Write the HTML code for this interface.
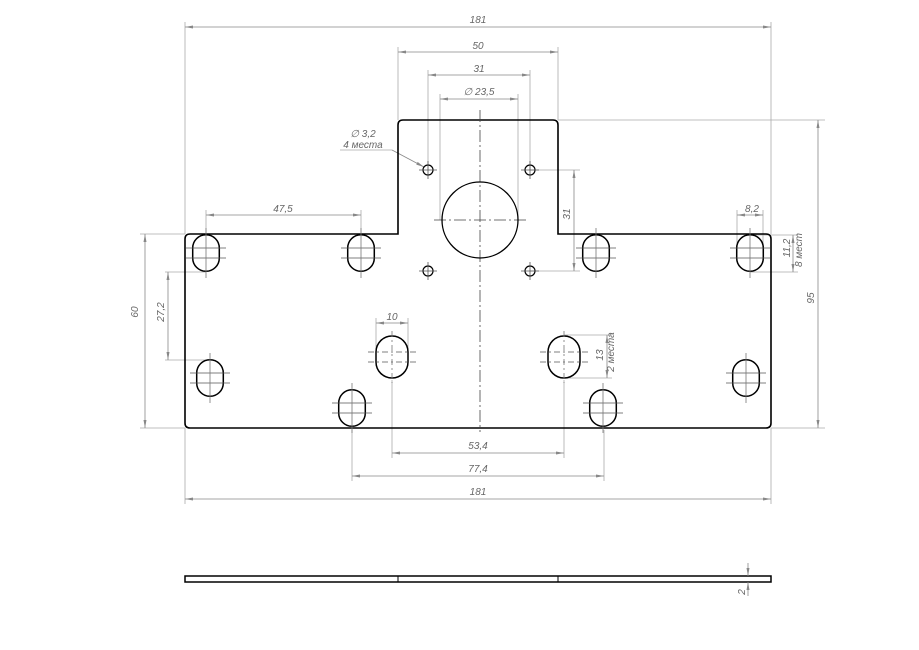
<!DOCTYPE html>
<html><head><meta charset="utf-8"><style>
html,body{margin:0;padding:0;background:#fff}
svg{display:block}
text{font-family:"Liberation Sans",sans-serif;font-size:10px;font-style:italic;fill:#666}
</style></head><body>
<svg width="919" height="650" viewBox="0 0 919 650" xmlns="http://www.w3.org/2000/svg">
<defs>
<marker id="a" markerWidth="8" markerHeight="4" refX="8" refY="2" orient="auto-start-reverse" markerUnits="userSpaceOnUse"><path d="M0,0.5 L8,2 L0,3.5 z" fill="#888"/></marker>
<g id="s">
<rect x="-13.3" y="-18.3" width="26.6" height="36.6" rx="13.3" fill="none" stroke="#000" stroke-width="1.5"/>
<line x1="-20" y1="-5" x2="20" y2="-5" stroke="#555" stroke-width="0.8"/>
<line x1="-20" y1="5" x2="20" y2="5" stroke="#555" stroke-width="0.8"/>
<line x1="0" y1="-25" x2="0" y2="25" stroke="#777" stroke-width="0.8"/>
</g>
<g id="b">
<rect x="-16" y="-21" width="32" height="42" rx="16" fill="none" stroke="#000" stroke-width="1.5"/>
<line x1="-24" y1="-5" x2="24" y2="-5" stroke="#555" stroke-width="0.8" stroke-dasharray="6 3 2 3"/>
<line x1="-24" y1="5" x2="24" y2="5" stroke="#555" stroke-width="0.8" stroke-dasharray="6 3 2 3"/>
<line x1="0" y1="-26" x2="0" y2="26" stroke="#777" stroke-width="0.8" stroke-dasharray="6 3 2 3"/>
</g>
<g id="h">
<circle r="5" fill="none" stroke="#000" stroke-width="1.2"/>
<line x1="-9" y1="0" x2="9" y2="0" stroke="#555" stroke-width="0.8"/>
<line x1="0" y1="-9" x2="0" y2="9" stroke="#555" stroke-width="0.8"/>
</g>
</defs>
<!-- extension lines -->
<g stroke="#aaa" stroke-width="0.8" fill="none">
<line x1="185" y1="22" x2="185" y2="234"/><line x1="771" y1="22" x2="771" y2="234"/>
<line x1="398" y1="47" x2="398" y2="120"/><line x1="558" y1="47" x2="558" y2="120"/>
<line x1="428" y1="70" x2="428" y2="170"/><line x1="530" y1="70" x2="530" y2="170"/>
<line x1="440" y1="94" x2="440" y2="220"/><line x1="518" y1="94" x2="518" y2="220"/>
<line x1="558" y1="120" x2="825" y2="120"/><line x1="771" y1="428" x2="825" y2="428"/>
<line x1="140" y1="234" x2="185" y2="234"/><line x1="140" y1="428" x2="185" y2="428"/>
<line x1="165" y1="272" x2="206" y2="272"/><line x1="165" y1="360" x2="210" y2="360"/>
<line x1="530" y1="170" x2="580" y2="170"/><line x1="530" y1="271" x2="580" y2="271"/>
<line x1="206" y1="210" x2="206" y2="235"/><line x1="361" y1="210" x2="361" y2="235"/>
<line x1="737" y1="210" x2="737" y2="253"/><line x1="763" y1="210" x2="763" y2="253"/>
<line x1="750" y1="235" x2="798" y2="235"/><line x1="750" y1="272" x2="798" y2="272"/>
<line x1="376" y1="318" x2="376" y2="357"/><line x1="408" y1="318" x2="408" y2="357"/>
<line x1="564" y1="335" x2="612" y2="335"/><line x1="564" y1="378" x2="612" y2="378"/>
<line x1="392" y1="380" x2="392" y2="458"/><line x1="564" y1="380" x2="564" y2="458"/>
<line x1="352" y1="430" x2="352" y2="481"/><line x1="604" y1="430" x2="604" y2="481"/>
<line x1="185" y1="428" x2="185" y2="504"/><line x1="771" y1="428" x2="771" y2="504"/>
<line x1="340" y1="150" x2="392" y2="150"/>
</g>
<!-- dimension lines -->
<g stroke="#888" stroke-width="0.8" marker-start="url(#a)" marker-end="url(#a)">
<line x1="185" y1="27" x2="771" y2="27"/>
<line x1="398" y1="52" x2="558" y2="52"/>
<line x1="428" y1="75" x2="530" y2="75"/>
<line x1="440" y1="99" x2="518" y2="99"/>
<line x1="206" y1="215" x2="361" y2="215"/>
<line x1="737" y1="215" x2="763" y2="215"/>
<line x1="818" y1="120" x2="818" y2="428"/>
<line x1="145" y1="234" x2="145" y2="428"/>
<line x1="168" y1="272" x2="168" y2="360"/>
<line x1="574" y1="170" x2="574" y2="271"/>
<line x1="793" y1="235" x2="793" y2="272"/>
<line x1="607" y1="335" x2="607" y2="378"/>
<line x1="376" y1="323" x2="408" y2="323"/>
<line x1="392" y1="453" x2="564" y2="453"/>
<line x1="352" y1="476" x2="604" y2="476"/>
<line x1="185" y1="499" x2="771" y2="499"/>
</g>
<line x1="392" y1="150" x2="424" y2="167" stroke="#888" stroke-width="0.8" marker-end="url(#a)"/>
<!-- outline -->
<path d="M190,234 L398,234 L398,125 Q398,120 403,120 L553,120 Q558,120 558,125 L558,234 L766,234 Q771,234 771,239 L771,423 Q771,428 766,428 L190,428 Q185,428 185,423 L185,239 Q185,234 190,234 Z" fill="none" stroke="#000" stroke-width="1.6"/>
<!-- center lines -->
<g stroke="#444" stroke-width="0.8" stroke-dasharray="12 3 2 3">
<line x1="480" y1="110" x2="480" y2="432"/>
<line x1="434" y1="220" x2="526" y2="220"/>
</g>
<circle cx="480" cy="220" r="38" fill="none" stroke="#000" stroke-width="1.3"/>
<use href="#h" x="428" y="170"/><use href="#h" x="530" y="170"/>
<use href="#h" x="428" y="271"/><use href="#h" x="530" y="271"/>
<use href="#s" x="206" y="253"/><use href="#s" x="361" y="253"/>
<use href="#s" x="596" y="253"/><use href="#s" x="750" y="253"/>
<use href="#s" x="210" y="378"/><use href="#s" x="352" y="408"/>
<use href="#s" x="603" y="408"/><use href="#s" x="746" y="378"/>
<use href="#b" x="392" y="357"/><use href="#b" x="564" y="357"/>
<!-- labels -->
<text x="478" y="23" text-anchor="middle">181</text>
<text x="478" y="49" text-anchor="middle">50</text>
<text x="479" y="72" text-anchor="middle">31</text>
<text x="479" y="95" text-anchor="middle">∅ 23,5</text>
<text x="283" y="212" text-anchor="middle">47,5</text>
<text x="752" y="212" text-anchor="middle">8,2</text>
<text x="363" y="137" text-anchor="middle">∅ 3,2</text>
<text x="363" y="148" text-anchor="middle">4 места</text>
<text x="392" y="320" text-anchor="middle">10</text>
<text x="478" y="449" text-anchor="middle">53,4</text>
<text x="478" y="472" text-anchor="middle">77,4</text>
<text x="478" y="495" text-anchor="middle">181</text>
<text transform="translate(138,312) rotate(-90)" text-anchor="middle">60</text>
<text transform="translate(164,312) rotate(-90)" text-anchor="middle">27,2</text>
<text transform="translate(570,214) rotate(-90)" text-anchor="middle">31</text>
<text transform="translate(814,298) rotate(-90)" text-anchor="middle">95</text>
<text transform="translate(790,248) rotate(-90)" text-anchor="middle">11,2</text>
<text transform="translate(802,250) rotate(-90)" text-anchor="middle">8 мест</text>
<text transform="translate(603,355) rotate(-90)" text-anchor="middle">13</text>
<text transform="translate(614,352) rotate(-90)" text-anchor="middle">2 места</text>
<!-- side view -->
<rect x="185" y="576" width="586" height="6" fill="none" stroke="#000" stroke-width="1.5"/>
<line x1="398" y1="576" x2="398" y2="582" stroke="#000" stroke-width="1"/>
<line x1="558" y1="576" x2="558" y2="582" stroke="#000" stroke-width="1"/>
<line x1="748" y1="563" x2="748" y2="576" stroke="#888" stroke-width="0.8" marker-end="url(#a)"/>
<line x1="748" y1="596" x2="748" y2="582" stroke="#888" stroke-width="0.8" marker-end="url(#a)"/>
<text transform="translate(745,592) rotate(-90)" text-anchor="middle">2</text>
</svg>
</body></html>
